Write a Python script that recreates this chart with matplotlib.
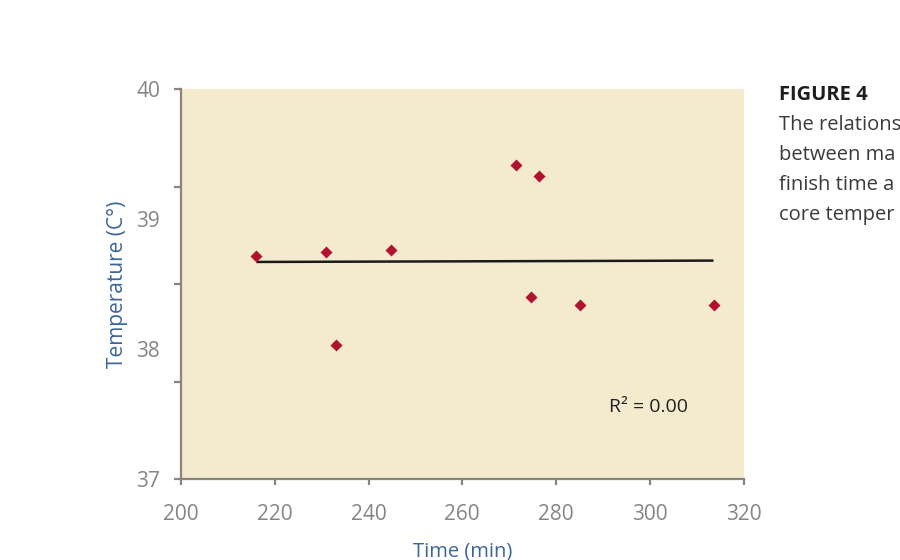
import numpy as np
import matplotlib
matplotlib.use("Agg")
import matplotlib.pyplot as plt

# Data
time_min = [216.1, 230.9, 233.0, 244.7, 271.5, 276.4, 274.6, 285.2, 313.6]
temp_c = [38.72, 38.75, 38.03, 38.76, 39.42, 39.33, 38.40, 38.34, 38.34]

x_ticks = [200, 220, 240, 260, 280, 300, 320]
y_labels = [37, 38, 39, 40]
y_tick_marks = [37, 37.75, 38.5, 39.25, 40]

caption_title = "FIGURE 4"
caption_lines = ["The relations", "between ma", "finish time a", "core temper"]

plt.rcParams['font.family'] = ['Open Sans', 'DejaVu Sans']

fig = plt.figure(figsize=(9, 5.6), dpi=100)
ax = fig.add_axes([181/900, 1-479.3/560, 562.5/900, 390/560])

bg = '#f4eacd'
ax.set_facecolor(bg)
axis_col = '#8a857a'
tick_col = '#858585'

# trend line
x = np.array(time_min); y = np.array(temp_c)
coef = np.polyfit(x, y, 1)
fit = np.poly1d(coef)
xs = np.array([x.min(), x.max()])
ax.plot(xs, fit(xs), color='#1a1a1a', lw=1.8, zorder=2, solid_capstyle='butt')
pred = fit(x)
r2 = 1 - np.sum((y - pred)**2) / np.sum((y - y.mean())**2)

ax.plot(x, y, linestyle='none', marker='D', ms=5.8, color='#b0122f', mec='none', zorder=3)

ax.set_xlim(200, 320)
ax.set_ylim(37, 40)

for s in ['top', 'right']:
    ax.spines[s].set_visible(False)
for s in ['left', 'bottom']:
    ax.spines[s].set_color(axis_col)
    ax.spines[s].set_linewidth(1.6)

ax.set_xticks(x_ticks)
ax.set_xticklabels([str(v) for v in x_ticks])
ax.tick_params(axis='x', direction='out', length=4, width=1.6, color=axis_col,
               labelcolor=tick_col, labelsize=15, pad=14)

ax.yaxis.remove_overlapping_locs = False
ax.set_yticks(y_tick_marks)
ax.set_yticklabels([])
ax.set_yticks(y_labels, minor=True)
ax.set_yticklabels([str(v) for v in y_labels], minor=True)
ax.tick_params(axis='y', which='major', direction='out', length=5, width=1.6, color=axis_col)
ax.tick_params(axis='y', which='minor', length=0, labelcolor=tick_col, labelsize=15, pad=15)

label_col = '#3b6598'
ax.set_xlabel('Time (min)', color=label_col, fontsize=14.5)
ax.xaxis.set_label_coords(0.5, (479.3-551)/390)
ax.xaxis.label.set_va('center')
ax.set_ylabel('Temperature (C°)', color=label_col, fontsize=15)
ax.yaxis.set_label_coords((117-181)/562.5, 0.5)
ax.yaxis.label.set_va('center')

ax.text(299.8, 37.556, f"R² = {abs(r2):.2f}", ha='center', va='center', fontsize=14, color='#222222')

fig.text(779/900, 1-95/560, caption_title, ha='left', va='center', fontsize=14.5,
         fontweight='bold', color='#1e1e1e')
for i, line in enumerate(caption_lines):
    fig.text(779/900, 1-(125+30*i)/560, line, ha='left', va='center', fontsize=14.5,
             color='#3a3a3a')

fig.savefig('out.png', dpi=100, facecolor='white')
